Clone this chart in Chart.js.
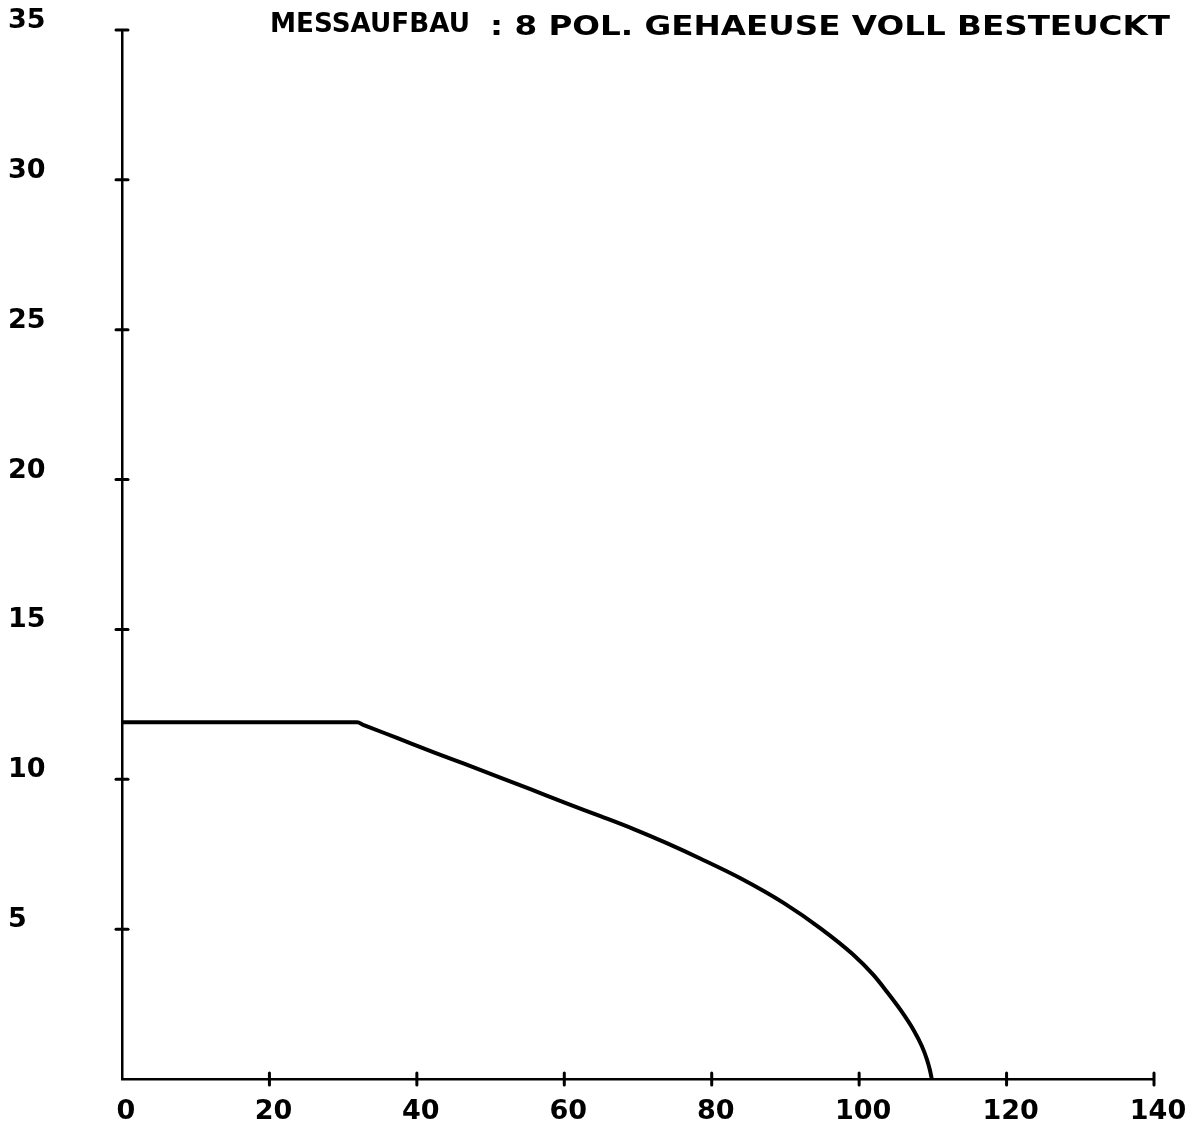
<!DOCTYPE html>
<html>
<head>
<meta charset="utf-8">
<script src="https://cdn.jsdelivr.net/npm/chart.js@4.4.1/dist/chart.umd.min.js"></script>
<style>
  html, body { margin: 0; padding: 0; background: #fff; }
  #wrap { width: 1201px; height: 1133px; position: relative; }
</style>
</head>
<body>
<div id="wrap"><canvas id="c"></canvas></div>
<script>
// ---- data ----
const titleLeft = "MESSAUFBAU";
const titleRight = ": 8 POL. GEHAEUSE VOLL BESTEUCKT";
const xTicks = [0, 20, 40, 60, 80, 100, 120, 140];
const yTicks = [0, 5, 10, 15, 20, 25, 30, 35];
const curveX = [0, 31.9, 32.8, 37.3, 42.3, 46.4, 51.4, 55.4, 60.4, 64.9, 69.5, 73.9, 78.5, 83.9, 89.8, 94.8, 99.1, 101.9, 103.8, 105.8, 107.4, 108.5, 109.2, 109.6, 109.85];
const curveY = [11.9, 11.9, 11.81, 11.38, 10.9, 10.52, 10.05, 9.67, 9.19, 8.77, 8.33, 7.87, 7.35, 6.7, 5.87, 5.02, 4.17, 3.48, 2.9, 2.24, 1.63, 1.1, 0.65, 0.3, 0];

const points = curveX.map((x, i) => ({ x: x, y: curveY[i] }));
const FONT = "'DejaVu Sans', sans-serif";

const crossTicks = {
  id: 'crossTicks',
  afterDraw(chart) {
    const ctx = chart.ctx;
    const xs = chart.scales.x, ys = chart.scales.y;
    ctx.save();
    ctx.strokeStyle = '#000';
    ctx.lineWidth = 3;
    ctx.lineCap = 'round';
    const yAxisX = xs.getPixelForValue(0);
    const xAxisY = ys.getPixelForValue(0);
    yTicks.forEach(v => {
      if (v === 0) return;
      const p = ys.getPixelForValue(v);
      ctx.beginPath(); ctx.moveTo(yAxisX - 6, p); ctx.lineTo(yAxisX + 6, p); ctx.stroke();
    });
    xTicks.forEach(v => {
      if (v === 0) return;
      const p = xs.getPixelForValue(v);
      ctx.beginPath(); ctx.moveTo(p, xAxisY - 6); ctx.lineTo(p, xAxisY + 6); ctx.stroke();
    });
    ctx.restore();
  }
};

const headerText = {
  id: 'headerText',
  afterDraw(chart) {
    const ctx = chart.ctx;
    ctx.save();
    ctx.fillStyle = '#000';
    ctx.font = 'bold 27px ' + FONT;
    ctx.textBaseline = 'alphabetic';
    const drawFit = (txt, x, y, w) => {
      const m = ctx.measureText(txt).width;
      ctx.save();
      ctx.translate(x, y);
      ctx.scale(w / m, 1);
      ctx.fillText(txt, 0, 0);
      ctx.restore();
    };
    drawFit(titleLeft, 270, 32, 200);
    drawFit(titleRight, 490, 35, 680);
    ctx.restore();
  }
};

new Chart(document.getElementById('c'), {
  type: 'scatter',
  data: {
    datasets: [{
      data: points,
      showLine: true,
      borderColor: '#000',
      borderWidth: 4,
      pointRadius: 0,
      cubicInterpolationMode: 'monotone',
      clip: false
    }]
  },
  plugins: [crossTicks, headerText],
  options: {
    responsive: true,
    maintainAspectRatio: false,
    animation: false,
    events: [],
    layout: { padding: { left: 8, top: 30, right: 47, bottom: 0 } },
    plugins: { legend: { display: false }, tooltip: { enabled: false }, title: { display: false } },
    scales: {
      x: {
        type: 'linear', min: 0, max: 140,
        afterBuildTicks: s => { s.ticks = xTicks.map(v => ({ value: v })); },
        afterFit: s => { s.height = 54; },
        grid: { display: false, drawTicks: false },
        border: { display: true, color: '#000', width: 2.5 },
        ticks: {
          color: '#000', padding: 17, labelOffset: 4, maxRotation: 0, autoSkip: false,
          font: { family: FONT, size: 27, weight: 'bold' }
        }
      },
      y: {
        type: 'linear', min: 0, max: 35,
        afterBuildTicks: s => { s.ticks = yTicks.map(v => ({ value: v })); },
        afterFit: s => { s.width = 114; },
        grid: { display: false, drawTicks: false },
        border: { display: true, color: '#000', width: 2.5 },
        ticks: {
          color: '#000', crossAlign: 'far', labelOffset: -9, autoSkip: false,
          callback: v => (v === 0 ? '' : String(v)),
          font: { family: FONT, size: 27, weight: 'bold' }
        }
      }
    }
  }
});
</script>
</body>
</html>
